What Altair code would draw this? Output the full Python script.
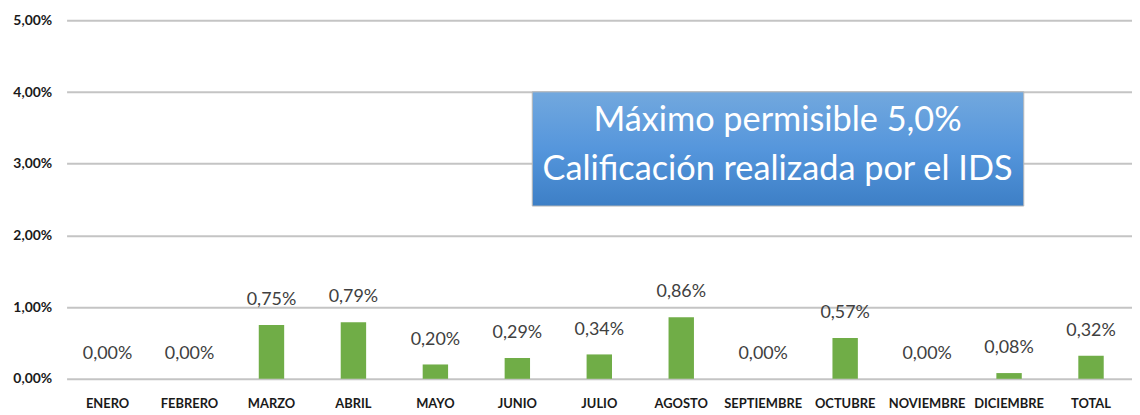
import altair as alt
import pandas as pd

meses = ["ENERO", "FEBRERO", "MARZO", "ABRIL", "MAYO", "JUNIO", "JULIO",
         "AGOSTO", "SEPTIEMBRE", "OCTUBRE", "NOVIEMBRE", "DICIEMBRE", "TOTAL"]
valores = [0.0, 0.0, 0.75, 0.79, 0.20, 0.29, 0.34, 0.86, 0.0, 0.57, 0.0, 0.08, 0.32]
etiquetas = [f"{v:.2f}".replace(".", ",") + "%" for v in valores]
caja_texto = ["Máximo permisible 5,0%", "Calificación realizada por el IDS"]

df = pd.DataFrame({"mes": meses, "valor": [v / 100 for v in valores], "etiqueta": etiquetas})

FONT = "Lato"

x = alt.X("mes:N", sort=meses, title=None,
          scale=alt.Scale(paddingInner=0.69, paddingOuter=0.345),
          axis=alt.Axis(labelAngle=0, labelFont=FONT, labelFontSize=13, labelFontWeight="bold",
                        labelColor="#1a1a1a", labelPadding=19, domain=False, ticks=False, grid=False))
y = alt.Y("valor:Q", title=None,
          scale=alt.Scale(domain=[0, 0.05], nice=False),
          axis=alt.Axis(values=[0, 0.01, 0.02, 0.03, 0.04, 0.05], format=".2%",
                        labelExpr="replace(datum.label, '.', ',')",
                        labelFont=FONT, labelFontSize=14, labelFontWeight="bold", labelColor="#1a1a1a",
                        labelPadding=15, domain=False, ticks=False,
                        gridColor="#c4c4c4", gridWidth=2))

bars = alt.Chart(df).mark_bar(color="#70ad47").encode(x=x, y=y)
labels = alt.Chart(df).mark_text(font=FONT, fontSize=18, color="#404040", baseline="middle", dy=-25).encode(
    x=alt.X("mes:N", sort=meses), y="valor:Q", text="etiqueta:N")

box_df = pd.DataFrame({"t": [caja_texto]})
box = alt.Chart(box_df).mark_rect(
    color=alt.LinearGradient(gradient="linear", x1=0, y1=0, x2=0, y2=1,
                             stops=[alt.GradientStop(color="#72a8de", offset=0),
                                    alt.GradientStop(color="#5596dc", offset=0.5),
                                    alt.GradientStop(color="#3d7fc6", offset=1)]),
    stroke="#b8b8b8", strokeWidth=1
).encode(x=alt.value(469), x2=alt.value(964), y=alt.value(72), y2=alt.value(187))
box_text = alt.Chart(box_df).mark_text(font=FONT, fontSize=34.5, color="white", lineHeight=50,
                                       align="center", baseline="middle").encode(
    x=alt.value(716), y=alt.value(101), text="t")

chart = alt.layer(bars, labels, box, box_text).properties(
    width=1073, height=361, autosize="none",
    padding={"left": 59, "top": 11, "right": 0, "bottom": 34}
).configure_view(stroke=None)

chart.save("out.html", embed_options={"renderer": "svg", "actions": False})
